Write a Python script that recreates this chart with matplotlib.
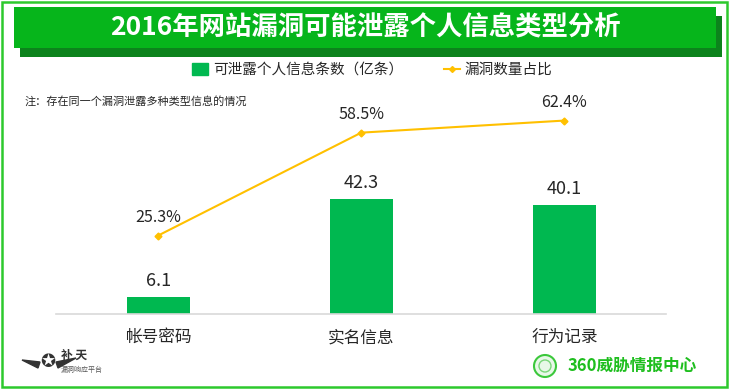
import matplotlib
matplotlib.use('Agg')
import matplotlib.pyplot as plt
from matplotlib.patches import Rectangle, Ellipse, Polygon
from matplotlib.lines import Line2D
import numpy as np

plt.rcParams['font.family'] = ['Noto Sans CJK SC', 'DejaVu Sans']

# data
categories = ['帐号密码', '实名信息', '行为记录']
counts = [6.1, 42.3, 40.1]          # 可泄露个人信息条数（亿条）
ratios = [25.3, 58.5, 62.4]         # 漏洞数量占比 (%)
title = '2016年网站漏洞可能泄露个人信息类型分析'
note = '注：存在同一个漏洞泄露多种类型信息的情况'

W, H = 729, 389
fig = plt.figure(figsize=(W / 100, H / 100), dpi=100)


def box(x0, y0, x1, y1):
    # pixel box (top-left origin) -> figure fraction rectangle args
    return (x0 / W, 1 - y1 / H), (x1 - x0) / W, (y1 - y0) / H


# outer border
xy, w, h = box(1.5, 1.5, 727, 387)
fig.patches.append(Rectangle(xy, w, h, transform=fig.transFigure, fill=False,
                             edgecolor='#2DC92D', lw=1.8))

# title banner with shadow
xy, w, h = box(20, 16, 722, 57)
fig.patches.append(Rectangle(xy, w, h, transform=fig.transFigure, color='#0C831C', lw=0))
xy, w, h = box(14, 7, 716, 48)
fig.patches.append(Rectangle(xy, w, h, transform=fig.transFigure, color='#06B51B', lw=0))
fig.text(365 / W, 1 - 28 / H, title, color='white', fontsize=19, fontweight='bold',
         ha='center', va='center')

# main axes
ax = fig.add_axes([56.5 / W, 1 - 314 / H, (666 - 56.5) / W, (314 - 95) / H])
x = np.arange(len(categories))
ax.bar(x, counts, width=0.31, color='#00B850', zorder=2)
ax.set_xlim(-0.5, 2.5)
ax.set_ylim(0, 219 / 2.72)
ax.set_xticks(x)
ax.set_xticklabels(categories, fontsize=12, color='#262626')
ax.tick_params(axis='x', length=0, pad=11)
ax.set_yticks([])
for s in ['top', 'left', 'right']:
    ax.spines[s].set_visible(False)
ax.spines['bottom'].set_color('#D9D9D9')
ax.spines['bottom'].set_linewidth(1.2)
for xi, c in zip(x, counts):
    ax.annotate(f'{c}', (xi, c), xytext=(0, 5), textcoords='offset points',
                ha='center', va='bottom', fontsize=13, color='#262626')

ax2 = ax.twinx()
ax2.plot(x, ratios, color='#FFC000', lw=1.5, marker='D', ms=3.5, zorder=3)
ax2.set_ylim(0, 219 / 3.1)
ax2.set_yticks([])
for s in ax2.spines.values():
    s.set_visible(False)
for xi, r in zip(x, ratios):
    ax2.annotate(f'{r}%', (xi, r), xytext=(0, 7), textcoords='offset points',
                 ha='center', va='bottom', fontsize=11.5, color='#262626')

# legend
handles = [Rectangle((0, 0), 1, 1, color='#00B850'),
           Line2D([], [], color='#FFC000', lw=1.5, marker='D', ms=3)]
fig.legend(handles, ['可泄露个人信息条数（亿条）', '漏洞数量占比'], loc='center',
           bbox_to_anchor=(372 / W, 1 - 70 / H), ncol=2, frameon=False,
           fontsize=10.5, handlelength=1.1, handleheight=0.8, handletextpad=0.3,
           columnspacing=2.8, labelcolor='#262626')

# note
fig.text(25 / W, 1 - 101 / H, note, fontsize=8, color='#262626', va='center')

# 补天 logo
fig.text(48 / W, 1 - 362 / H, '✪', fontsize=13, color='#333333', ha='center',
         va='center', family='DejaVu Sans')
fig.patches.append(Polygon([(22 / W, 1 - 360 / H), (40 / W, 1 - 362 / H), (38 / W, 1 - 368 / H)],
                           closed=True, transform=fig.transFigure, color='#333333'))
fig.patches.append(Polygon([(76 / W, 1 - 358 / H), (56 / W, 1 - 362 / H), (58 / W, 1 - 368 / H)],
                           closed=True, transform=fig.transFigure, color='#333333'))
fig.text(61 / W, 1 - 355 / H, '补 天', fontsize=8.5, color='#333333', va='center',
         fontweight='bold')
fig.text(61 / W, 1 - 370 / H, '漏洞响应平台', fontsize=5, color='#555555', va='center')

# 360 logo
fig.patches.append(Ellipse((545 / W, 1 - 366 / H), 22 / W, 22 / H, transform=fig.transFigure,
                           facecolor='#E8F8E8', edgecolor='#3CC83C', lw=1.5))
fig.patches.append(Ellipse((545 / W, 1 - 366 / H), 12 / W, 12 / H, transform=fig.transFigure,
                           facecolor='none', edgecolor='#7AD67A', lw=1))
fig.text(568 / W, 1 - 366 / H, '360威胁情报中心', fontsize=12, color='#1EBE1E',
         fontweight='bold', va='center')

fig.savefig('out.png', dpi=100)
